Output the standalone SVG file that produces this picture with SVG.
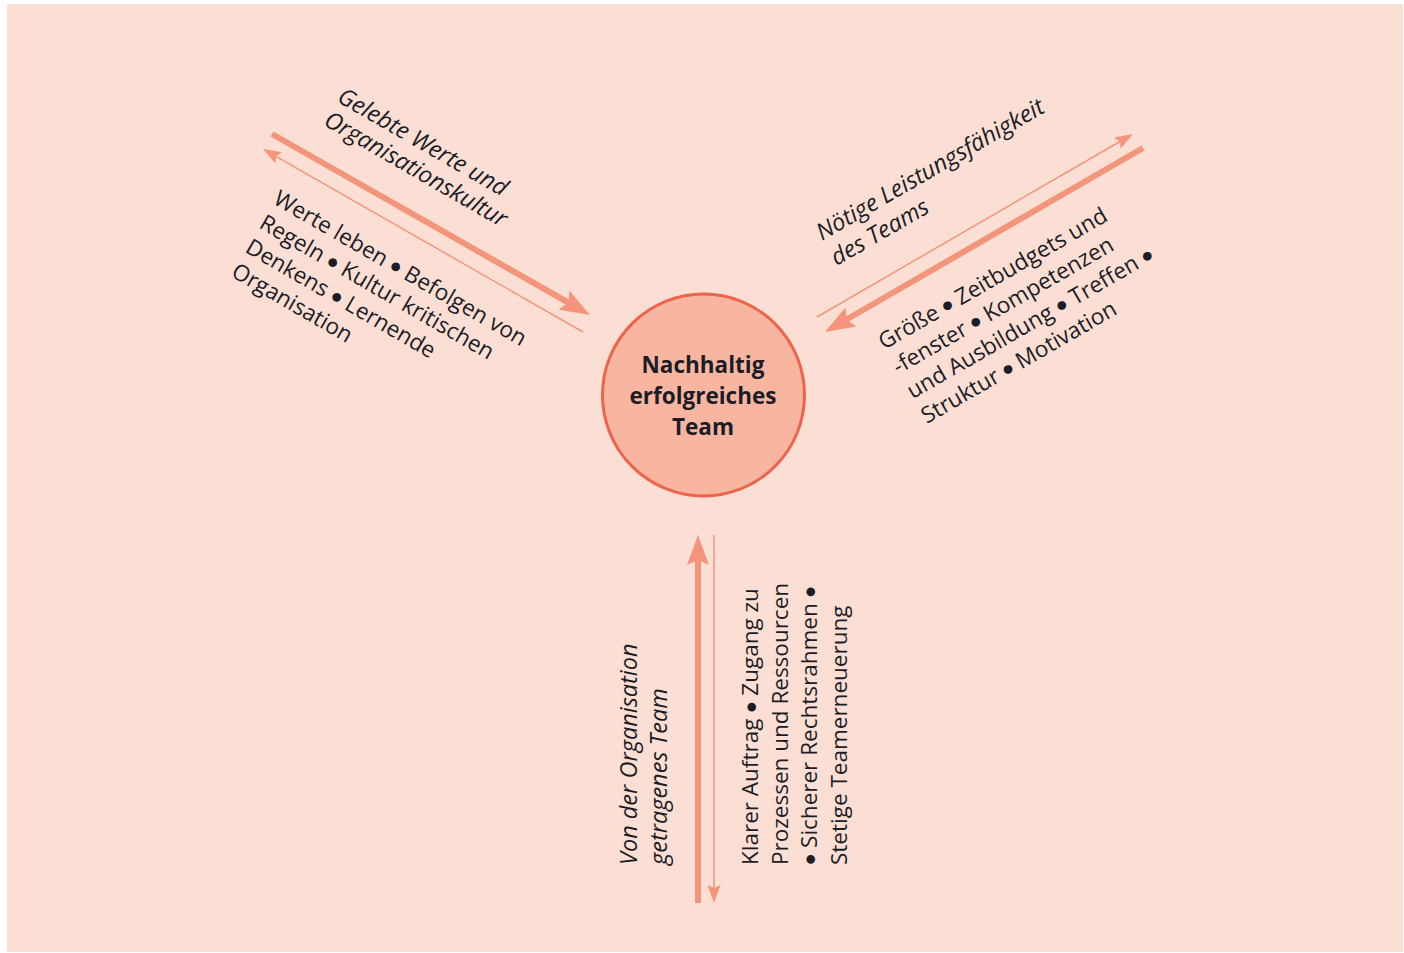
<svg xmlns="http://www.w3.org/2000/svg" width="1404" height="953" viewBox="0 0 1404 953">
  <style>
    .bg { fill: #fbdfd4; }
    .txt { font-family: "Open Sans", "Noto Sans", sans-serif; font-size: 22.5px; fill: #1c1c26; }
    .it { font-style: italic; font-size: 23.5px; }
    .b { font-family: "Liberation Sans", Arial, sans-serif; font-size: 32px; }
    .title { font-family: "Open Sans", "Noto Sans", sans-serif; font-size: 22.5px; font-weight: bold; fill: #1c1c26; text-anchor: middle; }
    .thick { stroke: #f4957b; stroke-width: 6; fill: none; }
    .thin { stroke: #f4957b; stroke-width: 1.5; fill: none; }
  </style>
  <defs>
    <marker id="headThick" markerUnits="userSpaceOnUse" viewBox="0 -11 30 22" markerWidth="30" markerHeight="22" refX="5" refY="0" orient="auto">
      <path d="M0,-11 L30,0 L0,11 L5,0 Z" fill="#f4957b"/>
    </marker>
    <marker id="headThin" markerUnits="userSpaceOnUse" viewBox="0 -6.5 18 13" markerWidth="18" markerHeight="13" refX="3" refY="0" orient="auto">
      <path d="M0,-6.5 L18,0 L0,6.5 L3,0 Z" fill="#f4957b"/>
    </marker>
  </defs>

  <rect class="bg" x="7" y="4" width="1396" height="948"/>

  <!-- connectors: paired arrows on the three sides -->
  <g id="connectors">
    <line class="thick" x1="272" y1="134" x2="568.3" y2="302.6" marker-end="url(#headThick)"/>
    <line class="thin" x1="583" y1="332" x2="276" y2="156.4" marker-end="url(#headThin)"/>
    <line class="thin" x1="817" y1="317" x2="1120" y2="141.5" marker-end="url(#headThin)"/>
    <line class="thick" x1="1143" y1="148" x2="846.6" y2="319.5" marker-end="url(#headThick)"/>
    <line class="thick" x1="698" y1="903" x2="698" y2="560" marker-end="url(#headThick)"/>
    <line class="thin" x1="714" y1="535" x2="714" y2="888" marker-end="url(#headThin)"/>
  </g>

  <!-- centre node -->
  <g id="team">
    <circle cx="703.5" cy="395" r="101" fill="#f8b6a0" stroke="#ee644b" stroke-width="3"/>
    <text class="title" x="703" y="373">Nachhaltig</text>
    <text class="title" x="703" y="404">erfolgreiches</text>
    <text class="title" x="703" y="435">Team</text>
  </g>

  <!-- upper left: organisational culture -->
  <g id="kultur">
    <text class="txt it" transform="translate(336,101) rotate(30)">
      <tspan x="0" y="0">Gelebte Werte und</tspan>
      <tspan x="0" y="27">Organisationskultur</tspan>
    </text>
    <text class="txt" transform="translate(272,203) rotate(30)">
      <tspan x="0" y="0">Werte leben </tspan><tspan class="b" dy="4">•</tspan><tspan dy="-4"> Befolgen von</tspan>
      <tspan x="0" y="28">Regeln </tspan><tspan class="b" dy="4">•</tspan><tspan dy="-4"> Kultur kritischen</tspan>
      <tspan x="0" y="56">Denkens </tspan><tspan class="b" dy="4">•</tspan><tspan dy="-4"> Lernende</tspan>
      <tspan x="0" y="84">Organisation</tspan>
    </text>
  </g>

  <!-- upper right: team capability -->
  <g id="leistung">
    <text class="txt it" transform="translate(822,241) rotate(-30)">
      <tspan x="0" y="0">Nötige Leistungsfähigkeit</tspan>
      <tspan x="0" y="29">des Teams</tspan>
    </text>
    <text class="txt" transform="translate(884,350) rotate(-30)">
      <tspan x="0" y="0">Größe </tspan><tspan class="b" dy="4">•</tspan><tspan dy="-4"> Zeitbudgets und</tspan>
      <tspan x="0" y="28.5">-fenster </tspan><tspan class="b" dy="4">•</tspan><tspan dy="-4"> Kompetenzen</tspan>
      <tspan x="0" y="57">und Ausbildung </tspan><tspan class="b" dy="4">•</tspan><tspan dy="-4"> Treffen </tspan><tspan class="b" dy="4">•</tspan>
      <tspan x="0" y="85.5">Struktur </tspan><tspan class="b" dy="4">•</tspan><tspan dy="-4"> Motivation</tspan>
    </text>
  </g>

  <!-- bottom: organisational support -->
  <g id="organisation">
    <text class="txt it" transform="translate(637,865) rotate(-90)">
      <tspan x="0" y="0">Von der Organisation</tspan>
      <tspan x="0" y="30">getragenes Team</tspan>
    </text>
    <text class="txt" transform="translate(758,865) rotate(-90)">
      <tspan x="0" y="0">Klarer Auftrag </tspan><tspan class="b" dy="4">•</tspan><tspan dy="-4"> Zugang zu</tspan>
      <tspan x="0" y="29.7">Prozessen und Ressourcen</tspan>
      <tspan x="0" y="59.4" class="b" dy="4">•</tspan><tspan dy="-4"> Sicherer Rechtsrahmen </tspan><tspan class="b" dy="4">•</tspan>
      <tspan x="0" y="89.1">Stetige Teamerneuerung</tspan>
    </text>
  </g>
</svg>
